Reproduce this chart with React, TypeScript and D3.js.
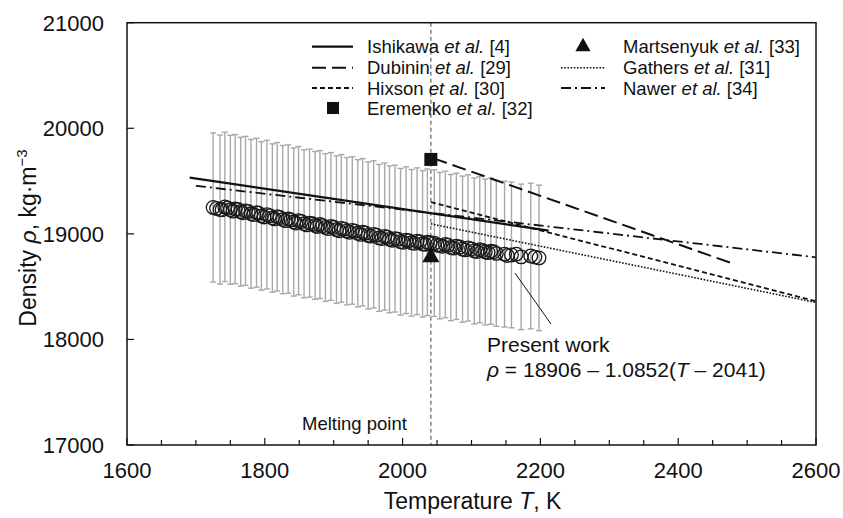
import React from "react";
import * as d3 from "d3";

// present work, run A (with error bars): temperature (K), density (kg/m3)
const runAT = [
  1725, 1735, 1742, 1750, 1757, 1765, 1772, 1780, 1788, 1795, 1803, 1811, 1818, 1826,
  1834, 1842, 1849, 1857, 1865, 1873, 1880, 1888, 1896, 1904, 1911, 1919, 1927, 1935,
  1942, 1950, 1958, 1966, 1974, 1981, 1989, 1997, 2005, 2013, 2021, 2029, 2036, 2046,
  2054, 2062, 2070, 2078, 2087, 2095, 2104, 2112, 2120, 2128, 2136, 2148, 2158, 2172,
  2186, 2198,
];
const runARho = [
  19250, 19230, 19255, 19228, 19235, 19210, 19218, 19190, 19200, 19170, 19182, 19150,
  19162, 19135, 19140, 19112, 19125, 19095, 19102, 19080, 19088, 19060, 19070, 19040,
  19052, 19025, 19032, 19005, 19015, 18985, 18995, 18962, 18975, 18948, 18955, 18925,
  18940, 18915, 18930, 18905, 18920, 18912, 18888, 18900, 18870, 18882, 18855, 18866,
  18838, 18850, 18828, 18835, 18815, 18808, 18800, 18782, 18790, 18772,
];
// present work, run B (repeat points, bars coincide with run A)
const runBT = [
  1730, 1738, 1746, 1754, 1761, 1768, 1776, 1784, 1791, 1799, 1807, 1814, 1822, 1830,
  1838, 1845, 1853, 1861, 1869, 1876, 1884, 1892, 1900, 1908, 1915, 1923, 1931, 1939,
  1946, 1954, 1962, 1970, 1978, 1985, 1993, 2001, 2009, 2017, 2025, 2033, 2040, 2050,
  2058, 2066, 2074, 2083, 2091, 2100, 2108, 2116, 2124, 2132, 2152, 2165, 2192,
];
const runBRho = [
  19240, 19228, 19245, 19215, 19232, 19200, 19212, 19182, 19195, 19160, 19172, 19142,
  19155, 19125, 19132, 19102, 19118, 19085, 19095, 19070, 19078, 19050, 19062, 19030,
  19045, 19015, 19025, 18995, 19008, 18978, 18988, 18955, 18968, 18940, 18950, 18920,
  18935, 18910, 18925, 18900, 18915, 18895, 18882, 18892, 18865, 18875, 18848, 18858,
  18832, 18842, 18822, 18830, 18795, 18808, 18780,
];
const relErr = 0.0367;

// literature lines: [T, rho] endpoints
const ishikawa = [[1691, 19532], [2212, 19030]];
const dubinin = [[2045, 19715], [2478, 18722]];
const hixson = [[2041, 19300], [2600, 18362]];
const gathers = [[2041, 19095], [2600, 18350]];
const nawer = [[1700, 19455], [2600, 18778]];
const eremenko = [2041, 19705];
const martsenyuk = [2041, 18790];
const meltingT = 2041;

const xMajor = [1600, 1800, 2000, 2200, 2400, 2600];
const xMinor = d3.range(1600, 2601, 50);
const yTicks = [17000, 18000, 19000, 20000, 21000];

const font = "'Liberation Sans', Arial, sans-serif";

export default function App() {
  const x = d3.scaleLinear().domain([1600, 2600]).range([127, 816]);
  const y = d3.scaleLinear().domain([17000, 21000]).range([445, 22.7]);
  const line = d3
    .line<number[]>()
    .x((d) => x(d[0]))
    .y((d) => y(d[1]));

  const styles = {
    ishikawa: { dash: "", w: 2.2 },
    dubinin: { dash: "14,6", w: 2 },
    hixson: { dash: "5,3", w: 1.8 },
    gathers: { dash: "1.6,1.6", w: 1.6 },
    nawer: { dash: "10,4,2,4", w: 1.8 },
  };

  const legendRows = [46.7, 67.7, 88, 108];
  const legL = [
    { name: "Ishikawa", ref: "[4]", s: styles.ishikawa },
    { name: "Dubinin", ref: "[29]", s: styles.dubinin },
    { name: "Hixson", ref: "[30]", s: styles.hixson },
    { name: "Eremenko", ref: "[32]", s: null },
  ];
  const legR = [
    { name: "Martsenyuk", ref: "[33]", s: null },
    { name: "Gathers", ref: "[31]", s: styles.gathers },
    { name: "Nawer", ref: "[34]", s: styles.nawer },
  ];

  const tri = (cx: number, cy: number, r: number) =>
    `M${cx},${cy - r}L${cx + r * 0.95},${cy + r * 0.7}L${cx - r * 0.95},${cy + r * 0.7}Z`;

  const circlesT = runAT.concat(runBT);
  const circlesRho = runARho.concat(runBRho);

  return (
    <svg
      width={843}
      height={518}
      style={{ position: "absolute", left: 0, top: 0, background: "#fff" }}
      fontFamily={font}
    >
      {/* error bars */}
      <g stroke="#a8a8a8" strokeWidth={1.4}>
        {runAT.map((t, i) => {
          const r = runARho[i];
          const e = r * relErr;
          return (
            <g key={i}>
              <line x1={x(t)} x2={x(t)} y1={y(r + e)} y2={y(r - e)} />
              <line x1={x(t) - 3} x2={x(t) + 3} y1={y(r + e)} y2={y(r + e)} />
              <line x1={x(t) - 3} x2={x(t) + 3} y1={y(r - e)} y2={y(r - e)} />
            </g>
          );
        })}
      </g>

      {/* melting point */}
      <line
        x1={x(meltingT)}
        x2={x(meltingT)}
        y1={y(21000)}
        y2={y(17000)}
        stroke="#777"
        strokeWidth={1.4}
        strokeDasharray="4,3"
      />

      {/* literature lines */}
      <g fill="none" stroke="#111">
        <path d={line(ishikawa) || ""} strokeWidth={styles.ishikawa.w} />
        <path d={line(dubinin) || ""} strokeWidth={styles.dubinin.w} strokeDasharray={styles.dubinin.dash} />
        <path d={line(hixson) || ""} strokeWidth={styles.hixson.w} strokeDasharray={styles.hixson.dash} />
        <path d={line(gathers) || ""} strokeWidth={styles.gathers.w} strokeDasharray={styles.gathers.dash} />
        <path d={line(nawer) || ""} strokeWidth={styles.nawer.w} strokeDasharray={styles.nawer.dash} />
      </g>

      {/* present work circles */}
      <g fill="none" stroke="#1a1a1a" strokeWidth={1.3}>
        {circlesT.map((t, i) => (
          <circle key={i} cx={x(t)} cy={y(circlesRho[i])} r={6.8} />
        ))}
      </g>

      <rect x={x(eremenko[0]) - 6.5} y={y(eremenko[1]) - 6.5} width={13} height={13} fill="#111" />
      <path d={tri(x(martsenyuk[0]), y(martsenyuk[1]), 9)} fill="#111" />

      {/* frame */}
      <rect x={127} y={22.7} width={689} height={422.3} fill="none" stroke="#111" strokeWidth={1.5} />

      {/* ticks */}
      <g stroke="#111" strokeWidth={1.2}>
        {xMinor.map((t) => (
          <line key={t} x1={x(t)} x2={x(t)} y1={445} y2={xMajor.includes(t) ? 438 : 440} />
        ))}
        {yTicks.map((v) => (
          <line key={v} x1={127} x2={134} y1={y(v)} y2={y(v)} />
        ))}
      </g>
      <g fontSize={22} fill="#111" textAnchor="middle">
        {xMajor.map((t) => (
          <text key={t} x={x(t)} y={478}>
            {t}
          </text>
        ))}
      </g>
      <g fontSize={22} fill="#111" textAnchor="end">
        {yTicks.map((v) => (
          <text key={v} x={104} y={y(v) + 8}>
            {v}
          </text>
        ))}
      </g>

      {/* axis titles */}
      <text x={x(2000) + 70} y={509} fontSize={23} textAnchor="middle" fill="#111">
        Temperature <tspan fontStyle="italic">T</tspan>, K
      </text>
      <text transform="translate(36,238) rotate(-90)" fontSize={23} textAnchor="middle" fill="#111">
        Density <tspan fontStyle="italic">ρ</tspan>, kg·m<tspan dy={-9} fontSize={15}>−3</tspan>
      </text>

      {/* annotations */}
      <text x={302} y={430} fontSize={18.5} fill="#111">
        Melting point
      </text>
      <line x1={515} y1={273} x2={551} y2={324} stroke="#111" strokeWidth={1} />
      <text x={487} y={352} fontSize={21} fill="#111">
        Present work
      </text>
      <text x={487} y={377} fontSize={21} fill="#111">
        <tspan fontStyle="italic">ρ</tspan> = 18906 – 1.0852(<tspan fontStyle="italic">T</tspan> – 2041)
      </text>

      {/* legend */}
      <g fontSize={18.5} fill="#111">
        {legL.map((d, i) => (
          <g key={d.name}>
            {d.s ? (
              <line
                x1={312}
                x2={353}
                y1={legendRows[i]}
                y2={legendRows[i]}
                stroke="#111"
                strokeWidth={d.s.w}
                strokeDasharray={d.s.dash}
              />
            ) : (
              <rect x={327} y={legendRows[i] - 6} width={12} height={12} fill="#111" />
            )}
            <text x={367} y={legendRows[i] + 6.5}>
              {d.name} <tspan fontStyle="italic">et al.</tspan> {d.ref}
            </text>
          </g>
        ))}
        {legR.map((d, i) => (
          <g key={d.name}>
            {d.s ? (
              <line
                x1={561}
                x2={605}
                y1={legendRows[i]}
                y2={legendRows[i]}
                stroke="#111"
                strokeWidth={d.s.w}
                strokeDasharray={d.s.dash}
              />
            ) : (
              <path d={tri(583, legendRows[i] - 1, 8)} fill="#111" />
            )}
            <text x={623} y={legendRows[i] + 6.5}>
              {d.name} <tspan fontStyle="italic">et al.</tspan> {d.ref}
            </text>
          </g>
        ))}
      </g>
    </svg>
  );
}
